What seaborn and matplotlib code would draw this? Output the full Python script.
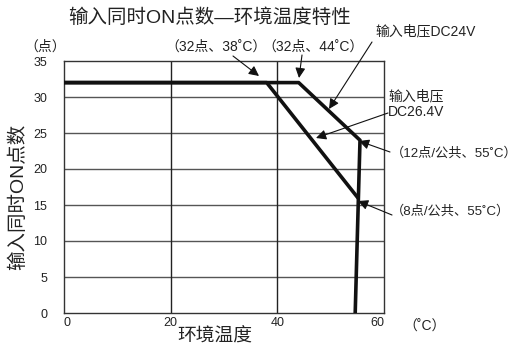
import matplotlib
matplotlib.use('Agg')
import matplotlib.pyplot as plt
import seaborn as sns
import pandas as pd

# derating curves: ambient temperature (C) vs simultaneous ON points
temp_24v = [0, 44, 55.5, 54.6]
points_24v = [32, 32, 24, 0]
temp_264v = [0, 38, 55.1]
points_264v = [32, 32, 16]

x_ticks = [0, 20, 40, 60]
y_ticks = [0, 5, 10, 15, 20, 25, 30, 35]

sns.set_style('white')
plt.rcParams['font.family'] = ['Liberation Sans', 'Noto Sans CJK SC', 'DejaVu Sans']

fig = plt.figure(figsize=(5.25, 3.47), dpi=100)
ax = fig.add_axes([64 / 525, 1 - 313 / 347, 320 / 525, 252 / 347])

df24 = pd.DataFrame({'temp': temp_24v, 'pts': points_24v})
df26 = pd.DataFrame({'temp': temp_264v, 'pts': points_264v})
sns.lineplot(data=df24, x='temp', y='pts', sort=False, estimator=None,
             color='#111111', lw=2.6, ax=ax, zorder=5)
sns.lineplot(data=df26, x='temp', y='pts', sort=False, estimator=None,
             color='#111111', lw=2.6, ax=ax, zorder=5)

ax.set_xlim(0, 60)
ax.set_ylim(0, 35)
ax.set_xticks(x_ticks)
ax.set_yticks(y_ticks)
ax.set_xticklabels([str(v) for v in x_ticks])
ax.set_yticklabels([str(v) for v in y_ticks])
for v in y_ticks[1:-1]:
    ax.axhline(v, color='#555555', lw=1.0, zorder=1)
for v in x_ticks[1:-1]:
    ax.axvline(v, color='#222222', lw=1.0, zorder=1)
for s in ax.spines.values():
    s.set_color('#333333')
    s.set_linewidth(1.0)
ax.tick_params(length=0, labelsize=9, colors='#222222')
ax.tick_params(axis='y', pad=12)
ax.tick_params(axis='x', pad=3)
xl = ax.get_xticklabels()
xl[0].set_ha('left')
xl[-1].set_ha('right')
ax.set_xlabel('')
ax.set_ylabel('')

fig.text(210 / 525, 1 - 18 / 347, '输入同时ON点数—环境温度特性', ha='center', va='center',
         fontsize=14, color='#222222')
fig.text(18 / 525, 1 - 197 / 347, '输入同时ON点数', rotation=90, ha='center', va='center',
         fontsize=14, color='#222222')
fig.text(215 / 525, 1 - 337 / 347, '环境温度', ha='center', va='center',
         fontsize=13.5, color='#222222')
fig.text(45 / 525, 1 - 47 / 347, '（点）', ha='center', va='center', fontsize=10, color='#222222')
fig.text(403 / 525, 1 - 327 / 347, '（˚C）', ha='left', va='center', fontsize=10, color='#222222')


def px(xp, yp):
    return ((xp - 64) / (320 / 60), (313 - yp) / (252 / 35))


arrow = dict(arrowstyle='-|>', color='#111111', lw=0.8, mutation_scale=15,
             shrinkA=0, shrinkB=0)
notes = [
    ('（32点、38˚C）', (165, 47), (233, 56), (259, 76), 10),
    ('（32点、44˚C）', (262, 47), (302, 55), (299, 78), 10),
    ('输入电压DC24V', (375, 31), (372, 42), (329, 109), 10),
    ('输入电压\nDC26.4V', (388, 104), (388, 113), (316, 138), 10),
    ('（12点/公共、55˚C）', (391, 153), (390, 152), (359, 141), 9.5),
    ('（8点/公共、55˚C）', (391, 211), (392, 215), (358, 201), 9.5),
]
for txt, tpos, tail, head, fs in notes:
    ax.text(*px(*tpos), txt, ha='left', va='center', fontsize=fs, color='#222222',
            linespacing=1.15, clip_on=False)
    ax.annotate('', xy=px(*head), xytext=px(*tail), arrowprops=arrow,
                annotation_clip=False)

fig.savefig('out.png', dpi=100)
